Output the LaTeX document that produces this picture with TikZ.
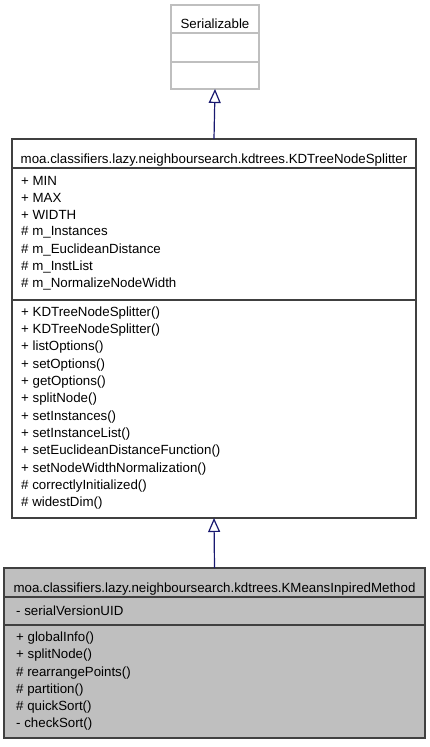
\documentclass[tikz,border=0pt]{standalone}
\usepackage{fontspec}
\setmainfont{Liberation Sans}
\definecolor{edgeblue}{RGB}{25, 25, 112}
\definecolor{boxgray}{RGB}{191, 191, 191}
\definecolor{frameline}{RGB}{64, 64, 64}
\usetikzlibrary{arrows.meta, positioning}

\begin{document}
\begin{tikzpicture}[x=1pt, y=-1pt,
    classbox/.style={draw=frameline, line width=1.2pt, inner sep=0pt, outer sep=0pt, anchor=north west},
    member/.style={anchor=west, inner sep=0pt, font=\fontsize{13.3}{16}\selectfont},
    classname/.style={inner sep=0pt, font=\fontsize{13.3}{16}\selectfont},
    inherit/.style={draw=edgeblue, line width=1.2pt, -{Triangle[fill=white, length=14pt, width=12pt]}}]
    \useasboundingbox (0,0) rectangle (429,747);

    % Interface at the top
    \node[classbox, draw=boxgray, fill=white, minimum width=88pt, minimum height=84pt] (ser) at (171,5) {};
    \node[classname, below=14pt of ser.north] (sername) {Serializable};
    \draw[boxgray, line width=1.2pt] (171,33) -- (259,33);
    \draw[boxgray, line width=1.2pt] (171,62) -- (259,62);

    % Base class
    \node[classbox, fill=white, minimum width=404pt, minimum height=379pt] (kd) at (12,139) {};
    \node[classname, below=15pt of kd.north] (kdname) {moa.classifiers.lazy.neighboursearch.kdtrees.KDTreeNodeSplitter};
    \draw[frameline, line width=1.2pt] (12,168) -- (416,168);
    \draw[frameline, line width=1.2pt] (12,300) -- (416,300);

    % Base class attributes
    \foreach \txt [count=\i] in {+ MIN, + MAX, + WIDTH, \# m\_Instances,
                                 \# m\_EuclideanDistance, \# m\_InstList,
                                 \# m\_NormalizeNodeWidth} {
        \node[member] (kdattr\i) at (21,163.7+17.2*\i) {\txt};
    }

    % Base class methods
    \foreach \txt [count=\i] in {+ KDTreeNodeSplitter(), + KDTreeNodeSplitter(),
                                 + listOptions(), + setOptions(), + getOptions(),
                                 + splitNode(), + setInstances(), + setInstanceList(),
                                 + setEuclideanDistanceFunction(),
                                 + setNodeWidthNormalization(),
                                 \# correctlyInitialized(), \# widestDim()} {
        \node[member] (kdop\i) at (21,295.6+17.3*\i) {\txt};
    }

    % Derived class (the documented one)
    \node[classbox, fill=boxgray, minimum width=421pt, minimum height=170pt] (km) at (4,568) {};
    \node[classname, below=15pt of km.north] (kmname) {moa.classifiers.lazy.neighboursearch.kdtrees.KMeansInpiredMethod};
    \draw[frameline, line width=1.2pt] (4,597) -- (425,597);
    \draw[frameline, line width=1.2pt] (4,625) -- (425,625);
    \node[member] (kmattr1) at (16,611) {- serialVersionUID};

    \foreach \txt [count=\i] in {+ globalInfo(), + splitNode(), \# rearrangePoints(),
                                 \# partition(), \# quickSort(), - checkSort()} {
        \node[member] (kmop\i) at (16,620.7+17.3*\i) {\txt};
    }

    % Inheritance arrows
    \draw[inherit] (km.north) -- (kd.south);
    \draw[inherit] (kd.north) -- (ser.south);
\end{tikzpicture}
\end{document}
